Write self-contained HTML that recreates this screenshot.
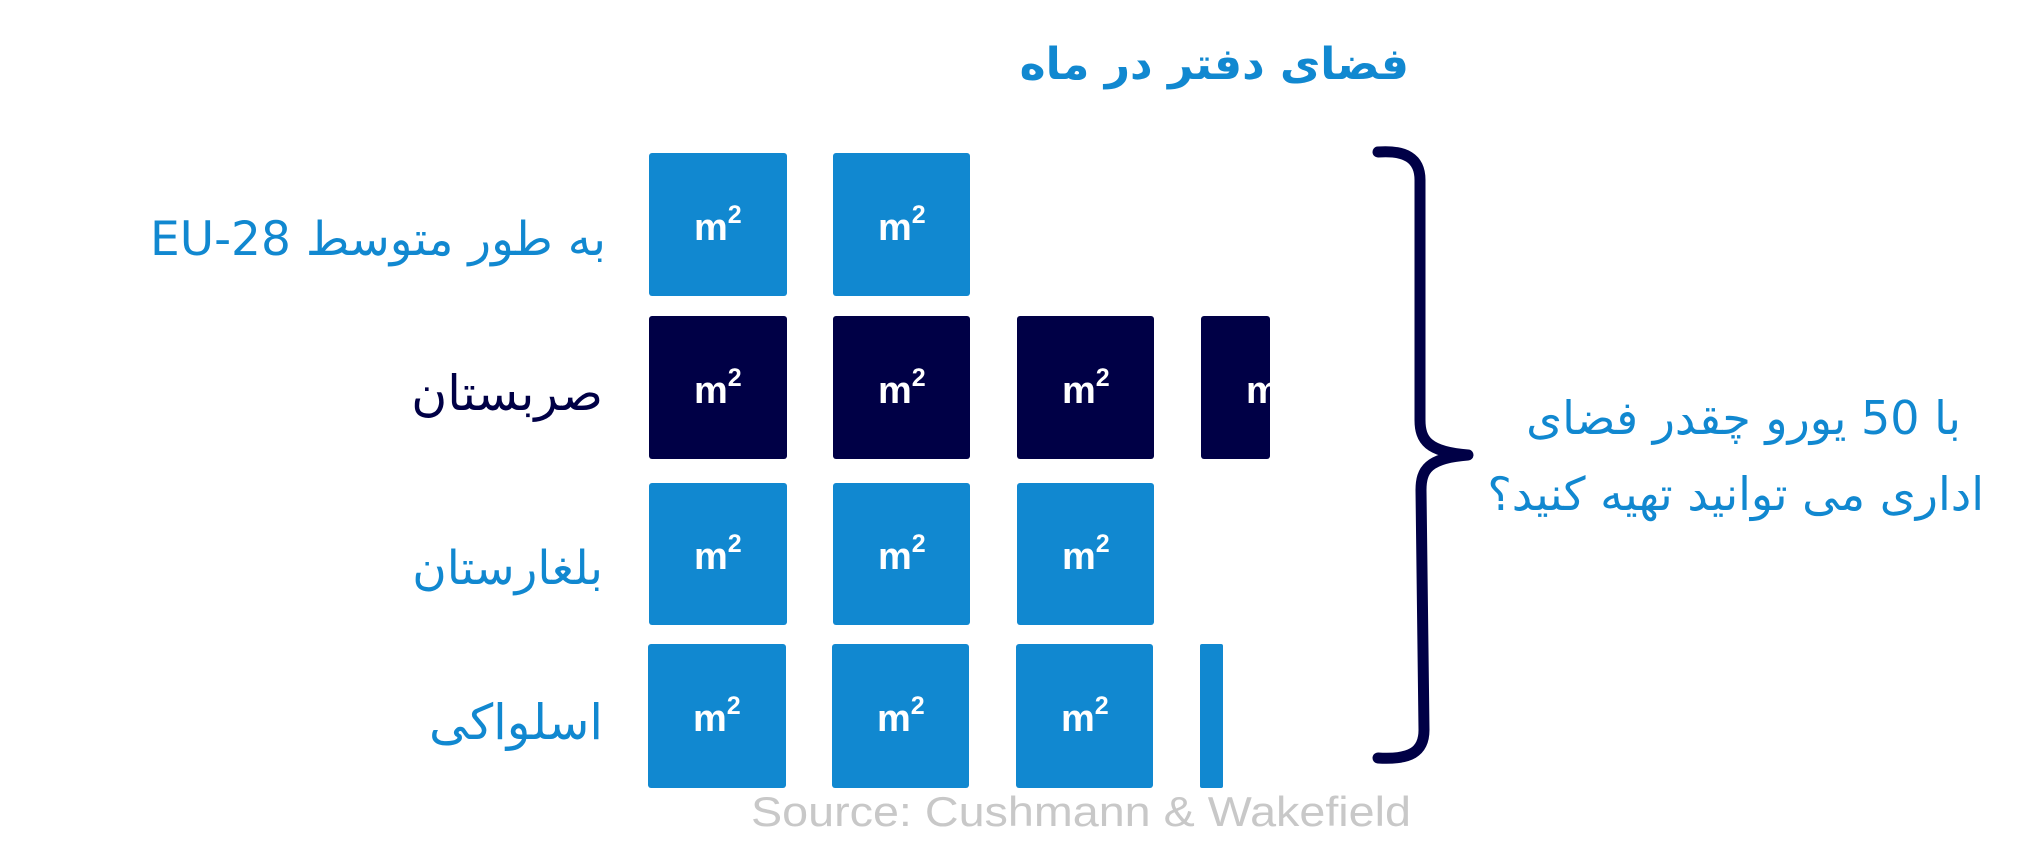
<!DOCTYPE html>
<html><head><meta charset="utf-8"><style>
html,body{margin:0;padding:0;background:#fff;}
svg{display:block}
text{font-family:"Liberation Sans","DejaVu Sans",sans-serif;}
.fa{font-family:"DejaVu Sans","Liberation Sans",sans-serif;}
.m{font-family:"DejaVu Sans","Liberation Sans",sans-serif;font-weight:bold;fill:#fff;font-size:38px;}
</style></head><body>
<svg width="2021" height="862" viewBox="0 0 2021 862" xmlns="http://www.w3.org/2000/svg">
<defs>
<clipPath id="c4"><rect x="1201" y="316" width="69" height="143"/></clipPath>
</defs>
<text class="fa" x="1409" y="79" text-anchor="start" direction="rtl" font-size="44" fill="#1188d0" font-weight="bold">فضای دفتر در ماه</text>

<text class="fa" x="606" y="255" text-anchor="start" direction="rtl" font-size="47" fill="#1188d0">به طور متوسط EU-28</text>
<text class="fa" x="603" y="410" text-anchor="start" direction="rtl" font-size="49" fill="#000046">صربستان</text>
<text class="fa" x="603" y="584" text-anchor="start" direction="rtl" font-size="47" fill="#1188d0">بلغارستان</text>
<text class="fa" x="603" y="739" text-anchor="start" direction="rtl" font-size="49" fill="#1188d0">اسلواکی</text>

<rect x="649" y="153" width="138" height="143" rx="3" fill="#1188d0"/>
<rect x="833" y="153" width="137" height="143" rx="3" fill="#1188d0"/>
<rect x="649" y="316" width="138" height="143" rx="3" fill="#000046"/>
<rect x="833" y="316" width="137" height="143" rx="3" fill="#000046"/>
<rect x="1017" y="316" width="137" height="143" rx="3" fill="#000046"/>
<rect x="1201" y="316" width="69" height="143" rx="3" fill="#000046"/>
<rect x="649" y="483" width="138" height="142" rx="3" fill="#1188d0"/>
<rect x="833" y="483" width="137" height="142" rx="3" fill="#1188d0"/>
<rect x="1017" y="483" width="137" height="142" rx="3" fill="#1188d0"/>
<rect x="648" y="644" width="138" height="144" rx="3" fill="#1188d0"/>
<rect x="832" y="644" width="137" height="144" rx="3" fill="#1188d0"/>
<rect x="1016" y="644" width="137" height="144" rx="3" fill="#1188d0"/>
<rect x="1200" y="644" width="23" height="144" rx="2" fill="#1188d0"/>

<g class="m">
<text x="694" y="240">m<tspan font-size="25" dy="-17">2</tspan></text>
<text x="878" y="240">m<tspan font-size="25" dy="-17">2</tspan></text>
<text x="694" y="403">m<tspan font-size="25" dy="-17">2</tspan></text>
<text x="878" y="403">m<tspan font-size="25" dy="-17">2</tspan></text>
<text x="1062" y="403">m<tspan font-size="25" dy="-17">2</tspan></text>
<text x="1246" y="403" clip-path="url(#c4)">m<tspan font-size="25" dy="-17">2</tspan></text>
<text x="694" y="569">m<tspan font-size="25" dy="-17">2</tspan></text>
<text x="878" y="569">m<tspan font-size="25" dy="-17">2</tspan></text>
<text x="1062" y="569">m<tspan font-size="25" dy="-17">2</tspan></text>
<text x="693" y="731">m<tspan font-size="25" dy="-17">2</tspan></text>
<text x="877" y="731">m<tspan font-size="25" dy="-17">2</tspan></text>
<text x="1061" y="731">m<tspan font-size="25" dy="-17">2</tspan></text>
</g>

<path d="M1378 152 C1405 150 1420 158 1420 180 L1420 420 C1420 440 1428 452 1468 455 C1428 458 1421 470 1421 490 L1424 730 C1424 752 1410 760 1378 758" fill="none" stroke="#000046" stroke-width="11" stroke-linecap="round" stroke-linejoin="round"/>

<text class="fa" x="1961" y="434" text-anchor="start" direction="rtl" font-size="46" fill="#1188d0">با 50 یورو چقدر فضای</text>
<text class="fa" x="1984" y="510" text-anchor="start" direction="rtl" font-size="46" fill="#1188d0">اداری می توانید تهیه کنید؟</text>

<text x="751" y="826" font-size="42" fill="#c8c8c8" textLength="660" lengthAdjust="spacingAndGlyphs">Source: Cushmann &amp; Wakefield</text>
</svg>
</body></html>
